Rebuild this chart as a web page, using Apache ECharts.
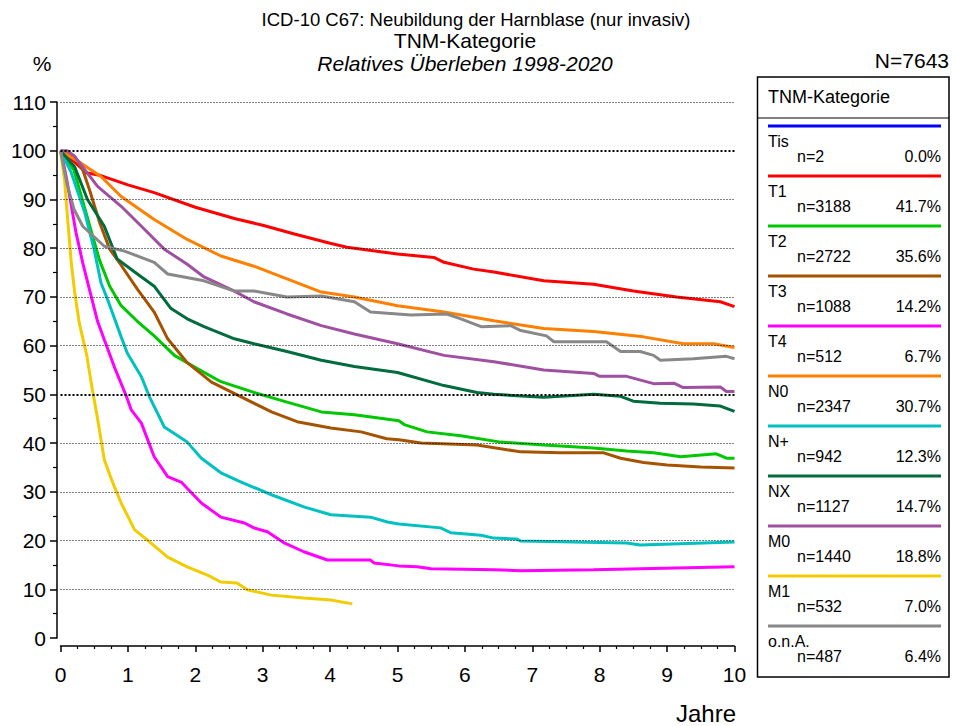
<!DOCTYPE html>
<html>
<head>
<meta charset="utf-8">
<script src="https://cdn.jsdelivr.net/npm/echarts@6/dist/echarts.min.js"></script>
<style>
html,body{margin:0;padding:0;background:#fff;}
#chart{width:953px;height:726px;}
</style>
</head>
<body>
<div id="chart"></div>
<script>
// ---------- DATA ----------
var titleLines = ["ICD-10 C67: Neubildung der Harnblase (nur invasiv)", "TNM-Kategorie", "Relatives Überleben 1998-2020"];
var yUnit = "%";
var xUnit = "Jahre";
var totalN = "N=7643";
var legendTitle = "TNM-Kategorie";
var xTicks = [0,1,2,3,4,5,6,7,8,9,10];
var yTicks = [0,10,20,30,40,50,60,70,80,90,100,110];
var boldGrid = [50,100];

var seriesNames = ["Tis","T1","T2","T3","T4","N0","N+","NX","M0","M1","o.n.A."];
var seriesN = ["n=2","n=3188","n=2722","n=1088","n=512","n=2347","n=942","n=1127","n=1440","n=532","n=487"];
var seriesPct = ["0.0%","41.7%","35.6%","14.2%","6.7%","30.7%","12.3%","14.7%","18.8%","7.0%","6.4%"];

var dataTis = [];
var dataT1 = [[0,100],[0.2,97.8],[0.38,95.5],[0.6,94.9],[1,93],[1.39,91.4],[2,88.4],[2.58,86.1],[3,84.7],[3.47,82.9],[4,81],[4.25,80.2],[5,78.8],[5.54,78.1],[5.69,77.1],[6.13,75.7],[6.43,75.1],[7.17,73.3],[7.91,72.6],[8.5,71.2],[9.14,70],[9.79,69],[10,68]];
var dataT2 = [[0,100],[0.2,96],[0.46,83.3],[0.58,77.5],[0.73,72.2],[0.9,68.2],[1.14,65],[1.39,62],[1.69,58],[1.99,55.6],[2.38,52.6],[2.87,50.4],[3.36,48.4],[3.87,46.4],[4.36,45.8],[5.02,44.6],[5.1,43.8],[5.44,42.3],[5.94,41.5],[6.53,40.2],[7.17,39.6],[7.91,39],[8.4,38.4],[8.8,38],[9.2,37.2],[9.73,37.8],[9.88,36.9],[10,36.9]];
var dataT3 = [[0,100],[0.21,98.8],[0.33,96.1],[0.43,92],[0.58,85.3],[0.73,79.8],[0.9,76.5],[1.14,71.6],[1.39,66.9],[1.59,61.4],[1.88,56.5],[2.24,52.5],[2.68,49.5],[3.13,46.4],[3.51,44.4],[4.01,43.1],[4.46,42.3],[4.84,40.9],[5.02,40.7],[5.35,40],[6.18,39.6],[6.83,38.2],[7.42,38],[8.06,38],[8.31,36.9],[8.65,36],[9,35.5],[9.5,35.1],[10,34.9]];
var dataT4 = [[0,100],[0.05,97],[0.1,93.5],[0.23,83.2],[0.33,77],[0.43,71.5],[0.55,65],[0.65,61.2],[0.8,55.6],[0.98,49.5],[1.05,46.8],[1.2,44.1],[1.39,37.2],[1.59,33.1],[1.79,32],[2.09,27.7],[2.38,24.8],[2.73,23.6],[2.87,22.6],[3.07,21.8],[3.32,19.5],[3.61,17.7],[3.96,16],[4.6,16],[4.65,15.4],[5.02,14.8],[5.29,14.6],[5.5,14.2],[6.43,14],[6.83,13.8],[7.91,14],[10,14.6]];
var dataN0 = [[0,100],[0.3,97.5],[0.6,94.7],[0.9,90.6],[1.39,85.9],[1.88,81.8],[2.38,78.4],[2.87,76.3],[3.36,73.7],[3.87,71],[4.36,70],[5,68.2],[5.69,66.9],[6.43,65.1],[7.17,63.5],[7.91,62.9],[8.65,61.8],[9.24,60.4],[9.69,60.4],[10,59.6]];
var dataNplus = [[0,100],[0.16,95.5],[0.36,87.3],[0.5,79.7],[0.6,72.9],[0.7,69.4],[0.9,61.8],[0.99,58.5],[1.2,53.6],[1.32,49.5],[1.54,43.3],[1.88,40.2],[2.09,36.9],[2.38,33.9],[2.68,32],[3.13,29.4],[3.61,26.9],[4.01,25.3],[4.6,24.8],[4.85,23.8],[5.02,23.4],[5.64,22.6],[5.79,21.6],[6.24,21.1],[6.43,20.5],[6.77,20.3],[6.83,19.9],[8.4,19.5],[8.6,19.1],[10,19.7]];
var dataNX = [[0,100],[0.21,96.7],[0.4,90],[0.65,84.5],[0.84,77.8],[1.1,75.1],[1.39,72.2],[1.64,67.6],[1.88,65.5],[2.13,63.9],[2.58,61.4],[2.87,60.4],[3.36,58.8],[3.87,57],[4.36,55.7],[5,54.5],[5.69,51.8],[6.18,50.4],[6.43,50],[7.17,49.4],[7.91,50],[8.31,49.6],[8.5,48.6],[8.9,48.2],[9.39,48],[9.79,47.6],[10,46.5]];
var dataM0 = [[0,100],[0.1,100],[0.2,99],[0.55,92.7],[0.9,88.6],[1.2,84.5],[1.54,79.8],[1.88,76.7],[2.13,74.1],[2.58,71.2],[2.87,69],[3.36,66.5],[3.87,64.1],[4.36,62.4],[5,60.4],[5.69,58],[6.43,56.7],[7.17,55],[7.91,54.3],[8,53.7],[8.4,53.7],[8.8,52.2],[9.1,52.3],[9.24,51.4],[9.79,51.5],[9.88,50.6],[10,50.6]];
var dataM1 = [[0,100],[0.06,94],[0.11,85.3],[0.16,77],[0.21,71],[0.28,64.5],[0.39,58],[0.46,52],[0.55,45],[0.65,36.6],[0.76,32.4],[0.9,27.7],[1.1,22.2],[1.29,20.1],[1.59,16.6],[1.88,14.6],[2.18,12.9],[2.38,11.5],[2.62,11.3],[2.77,9.9],[3.13,8.8],[3.61,8.2],[4.01,7.8],[4.33,7.0]];
var dataOnA = [[0,100],[0.1,93],[0.2,88],[0.33,84.5],[0.65,80.4],[0.95,79.4],[1.39,77.1],[1.59,74.7],[2.13,73.3],[2.58,71.2],[2.87,71.2],[3.36,70],[3.87,70.2],[4.36,69],[4.6,66.9],[5.2,66.3],[5.73,66.5],[5.94,65.5],[6.24,63.9],[6.68,64.1],[6.83,63.1],[7.21,62],[7.32,60.8],[8.1,60.8],[8.31,58.8],[8.6,58.8],[8.8,58],[8.9,57],[9.39,57.3],[9.88,57.8],[10,57.3]];

var seriesData = [dataTis,dataT1,dataT2,dataT3,dataT4,dataN0,dataNplus,dataNX,dataM0,dataM1,dataOnA];

// ---------- STYLE ----------
var colors = ["#0000ff","#ff0000","#00c800","#a65300","#ff00ff","#ff8000","#00c0c0","#006b3c","#a050a0","#f0cc00","#888888"];
var FONT = "'Liberation Sans', Arial, sans-serif";

var gridLeft = 60.5, gridTop = 102, gridW = 674, gridH = 536;

var chart = echarts.init(document.getElementById('chart'), null, {renderer:'svg'});

var series = [];
// grid lines as a helper series with markLines
series.push({
  type:'line', data:[], z:1, silent:true, animation:false,
  markLine:{
    silent:true, symbol:['none','none'], label:{show:false}, animation:false,
    data: yTicks.filter(function(v){return v>0;}).map(function(v){
      var bold = boldGrid.indexOf(v) >= 0;
      return {yAxis:v, lineStyle:{color:'#000', width: bold?2:1, type: bold?[2,2]:[1,2], opacity:1}};
    })
  }
});
for (var i=0;i<seriesNames.length;i++){
  series.push({
    name:seriesNames[i], type:'line', data:seriesData[i], showSymbol:false, symbol:'none',
    z:3, lineStyle:{color:colors[i], width:3}, itemStyle:{color:colors[i]}, animation:false
  });
}

// legend graphics
var lg = [];
var boxL = 757.5, boxT = 77, boxR = 949, boxB = 677;
lg.push({type:'rect', shape:{x:boxL,y:boxT,width:boxR-boxL,height:boxB-boxT}, style:{fill:'none', stroke:'#000', lineWidth:1.5}});
lg.push({type:'line', shape:{x1:boxL,y1:118,x2:boxR,y2:118}, style:{stroke:'#000', lineWidth:1}});
lg.push({type:'text', x:768, y:97, style:{text:legendTitle, font:"18px "+FONT, fill:'#000', textVerticalAlign:'middle', verticalAlign:'middle'}});
for (var k=0;k<seriesNames.length;k++){
  var ly = 126 + 50*k;
  lg.push({type:'line', shape:{x1:768,y1:ly,x2:941,y2:ly}, style:{stroke:colors[k], lineWidth:3}});
  lg.push({type:'text', x:768, y:ly+15, style:{text:seriesNames[k], font:"16px "+FONT, fill:'#000', verticalAlign:'middle', textVerticalAlign:'middle'}});
  lg.push({type:'text', x:797, y:ly+30, style:{text:seriesN[k], font:"16px "+FONT, fill:'#000', verticalAlign:'middle', textVerticalAlign:'middle'}});
  lg.push({type:'text', x:941, y:ly+30, style:{text:seriesPct[k], font:"16px "+FONT, fill:'#000', align:'right', textAlign:'right', verticalAlign:'middle', textVerticalAlign:'middle'}});
}
// titles and units
lg.push({type:'text', x:476, y:19, style:{text:titleLines[0], font:"18.5px "+FONT, fill:'#000', align:'center', textAlign:'center', verticalAlign:'middle', textVerticalAlign:'middle'}});
lg.push({type:'text', x:465, y:40, style:{text:titleLines[1], font:"21px "+FONT, fill:'#000', align:'center', textAlign:'center', verticalAlign:'middle', textVerticalAlign:'middle'}});
lg.push({type:'text', x:465, y:63, style:{text:titleLines[2], font:"italic 21px "+FONT, fill:'#000', align:'center', textAlign:'center', verticalAlign:'middle', textVerticalAlign:'middle'}});
lg.push({type:'text', x:42, y:63, style:{text:yUnit, font:"21px "+FONT, fill:'#000', align:'center', textAlign:'center', verticalAlign:'middle', textVerticalAlign:'middle'}});
lg.push({type:'text', x:949, y:60, style:{text:totalN, font:"21px "+FONT, fill:'#000', align:'right', textAlign:'right', verticalAlign:'middle', textVerticalAlign:'middle'}});
lg.push({type:'text', x:736, y:713, style:{text:xUnit, font:"24px "+FONT, fill:'#000', align:'right', textAlign:'right', verticalAlign:'middle', textVerticalAlign:'middle'}});

var option = {
  animation:false,
  backgroundColor:'#fff',
  grid:{left:gridLeft, top:gridTop, width:gridW, height:gridH, containLabel:false},
  xAxis:{
    type:'value', min:xTicks[0], max:xTicks[xTicks.length-1], interval:1, offset:8,
    axisLine:{show:true, onZero:false, lineStyle:{color:'#000', width:1.5}},
    axisTick:{show:true, length:6, lineStyle:{color:'#000', width:1.5}},
    minorTick:{show:true, splitNumber:4, length:3, lineStyle:{color:'#000', width:1.2}},
    splitLine:{show:false},
    axisLabel:{color:'#000', fontSize:21, fontFamily:FONT, margin:18,
      formatter:function(v){ return xTicks.indexOf(v)>=0 ? String(v) : ''; }}
  },
  yAxis:{
    type:'value', min:yTicks[0], max:yTicks[yTicks.length-1], interval:10, offset:3.5,
    axisLine:{show:true, onZero:false, lineStyle:{color:'#000', width:1.5}},
    axisTick:{show:true, length:7, lineStyle:{color:'#000', width:1.5}},
    minorTick:{show:true, splitNumber:2, length:4, lineStyle:{color:'#000', width:1.2}},
    splitLine:{show:false},
    axisLabel:{color:'#000', fontSize:21, fontFamily:FONT, margin:11,
      formatter:function(v){ return yTicks.indexOf(v)>=0 ? String(v) : ''; }}
  },
  series:series,
  graphic:lg
};
chart.setOption(option);
</script>
</body>
</html>
